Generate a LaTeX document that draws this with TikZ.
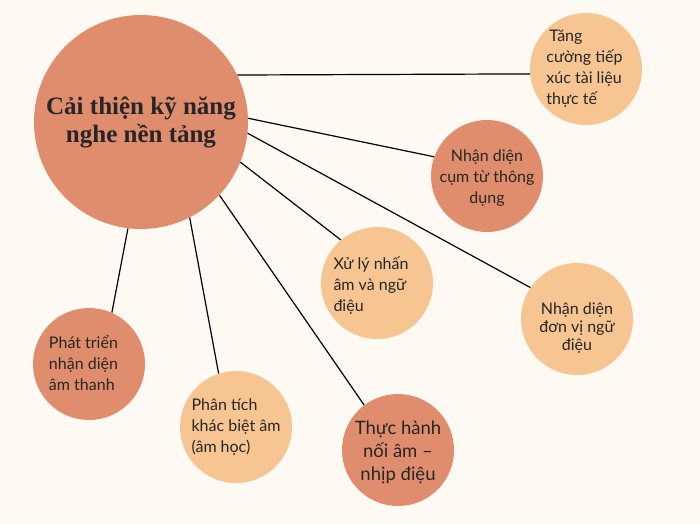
\documentclass[tikz,border=0pt]{standalone}
\usepackage{fontspec}
\setmainfont{Lato}
\newfontfamily\titlefont{Liberation Serif}
\definecolor{bg}{HTML}{FEF9F3}
\definecolor{darkc}{HTML}{E08D6D}
\definecolor{lightc}{HTML}{F6C592}
\definecolor{txt}{HTML}{262626}
\begin{document}
\begin{tikzpicture}[x=1pt,y=-1pt,
 bubble/.style={circle,inner sep=0pt,minimum size=112pt},
 darkb/.style={bubble,fill=darkc},
 lightb/.style={bubble,fill=lightc},
 lbl/.style={text=txt,font=\fontsize{16}{21}\selectfont,inner sep=0pt},
 link/.style={draw=black,line width=1.2pt}]
\fill[bg] (0,0) rectangle (700,523);
\path[use as bounding box] (0,0) rectangle (700,523);
\node[circle,fill=darkc,inner sep=0pt,minimum size=214pt] (main) at (141,122) {};
\node[lightb] (n1) at (586,69) {};
\node[darkb] (n2) at (487,176) {};
\node[lightb] (n3) at (377,283) {};
\node[lightb] (n4) at (577,319) {};
\node[darkb] (n5) at (89,364) {};
\node[lightb] (n6) at (236,427) {};
\node[darkb] (n7) at (398,450) {};
\draw[link] (main.26.6) -- (n1.185);
\draw[link] (main.2.7) -- (n2.160.9);
\draw[link] (main.354.1) -- (n4.146);
\draw[link] (main.338.4) -- (n3.130);
\draw[link] (main.317.3) -- (n7.127.9);
\draw[link] (main.297) -- (n6.108.8);
\draw[link] (main.263.6) -- (n5.66);
\node[lbl,align=center,font=\titlefont\bfseries\fontsize{25}{28}\selectfont] (tmain) at (141,122) {Cải thiện kỹ năng\\nghe nền tảng};
\node[lbl,align=left] (t1) at (584.5,69) {\hspace{3pt}Tăng\\cường tiếp\\xúc tài liệu\\thực tế};
\node[lbl,align=center] (t2) at (487,178) {Nhận diện\\cụm từ thông\\dụng};
\node[lbl,align=left] (t3) at (371,286) {Xử lý nhấn\\âm và ngữ\\điệu};
\node[lbl,align=center,font=\fontsize{16}{17.7}\selectfont] (t4) at (577,328) {Nhận diện\\đơn vị ngữ\\điệu};
\node[lbl,align=left] (t5) at (83.5,363) {Phát triển\\nhận diện\\âm thanh};
\node[lbl,align=left] (t6) at (236,427) {Phân tích\\khác biệt âm\\(âm học)};
\node[lbl,align=center,font=\fontsize{18.5}{23}\selectfont] (t7) at (398,452) {Thực hành\\nối âm –\\nhịp điệu};
\end{tikzpicture}
\end{document}
